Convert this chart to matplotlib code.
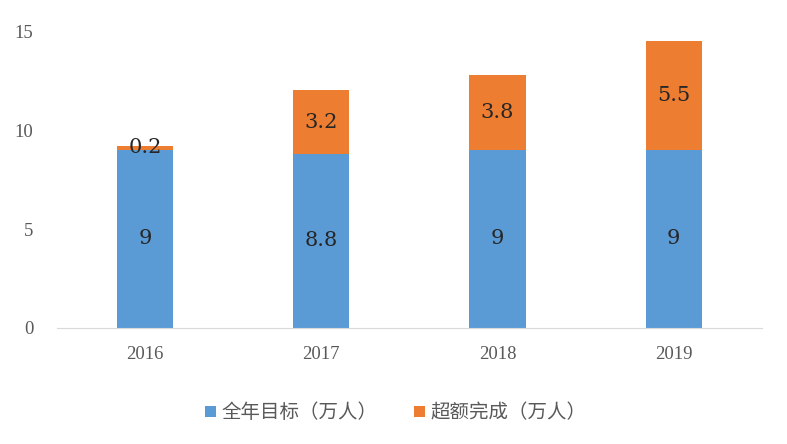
import matplotlib
matplotlib.use("Agg")
import matplotlib.pyplot as plt
import numpy as np

categories = ["2016", "2017", "2018", "2019"]
target = [9, 8.8, 9, 9]
extra = [0.2, 3.2, 3.8, 5.5]
series_names = ["全年目标（万人）", "超额完成（万人）"]
yticks = [0, 5, 10, 15]

fig = plt.figure(figsize=(7.87, 4.44), dpi=100)
ax = fig.add_axes([0.0724, 0.2613, 0.8956, 0.6687])

x = np.arange(len(categories))
w = 0.32
b1 = ax.bar(x, target, w, color="#5B9BD5", label=series_names[0])
b2 = ax.bar(x, extra, w, bottom=target, color="#ED7D31", label=series_names[1])

lab_font = dict(family="DejaVu Serif", fontsize=15, color="#262626")
for xi, t, e in zip(x, target, extra):
    ax.text(xi, t / 2, f"{t:g}", ha="center", va="center", **lab_font)
    ax.text(xi, t + e / 2, f"{e:g}", ha="center", va="center", **lab_font)

ax.set_xlim(-0.5, len(categories) - 0.5)
ax.set_ylim(0, 15)
ax.set_yticks(yticks)
ax.set_xticks(x)
ax.set_xticklabels(categories)
for s in ["top", "right", "left"]:
    ax.spines[s].set_visible(False)
ax.spines["bottom"].set_color("#D9D9D9")
ax.tick_params(axis="both", length=0, labelsize=13.5, colors="#595959", labelfontfamily="Liberation Serif")
ax.tick_params(axis="y", pad=17)
ax.tick_params(axis="x", pad=13)

leg = fig.legend(handles=[b1, b2], labels=series_names, loc="center", bbox_to_anchor=(0.503, 0.07),
                 ncol=2, frameon=False, prop={"family": ["Noto Sans CJK SC", "DejaVu Sans"], "size": 14},
                 handlelength=0.55, handleheight=0.55, handletextpad=0.3, columnspacing=1.9)
for t in leg.get_texts():
    t.set_color("#595959")

fig.savefig("out.png", dpi=100)
